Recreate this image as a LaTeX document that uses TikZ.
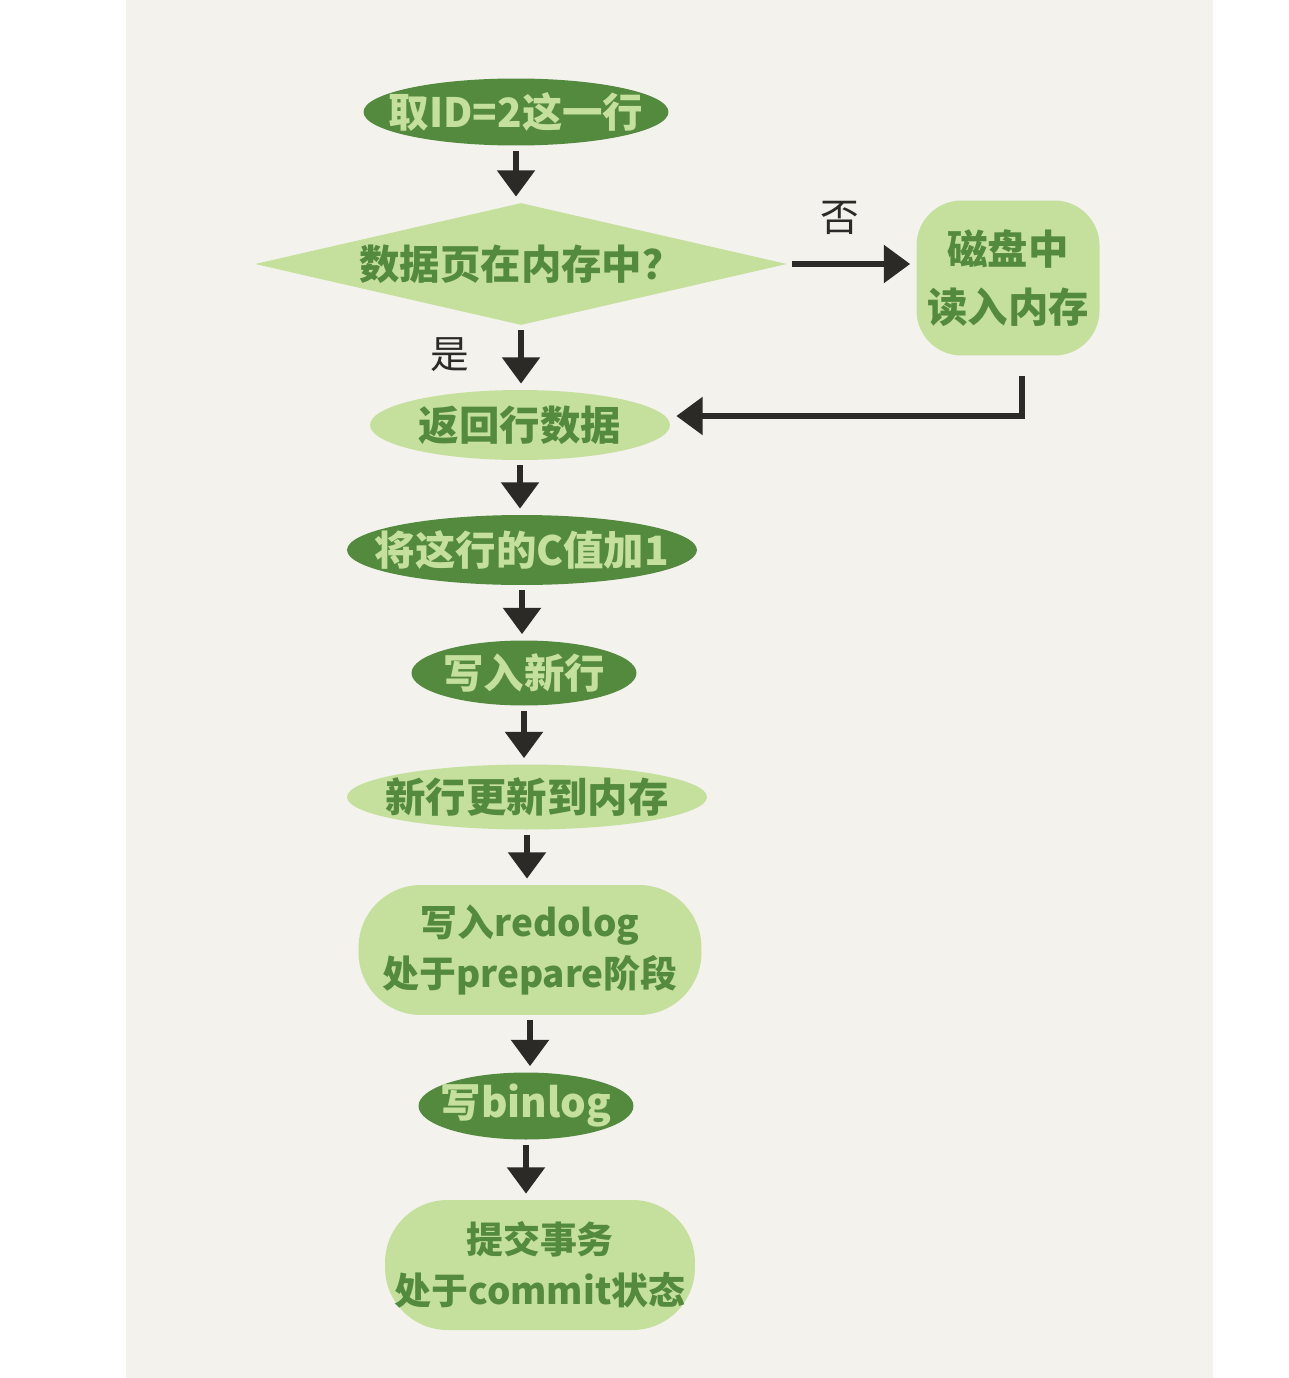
\documentclass[tikz,border=0pt]{standalone}
\usepackage{fontspec}
\newfontfamily\cjk{Noto Sans CJK SC}
\usetikzlibrary{arrows.meta,shapes.geometric,calc}
\definecolor{paper}{HTML}{F3F2ED}
\definecolor{leafdark}{HTML}{538A3E}
\definecolor{leaflight}{HTML}{C5E09C}
\definecolor{ink}{HTML}{2B2A27}
\tikzset{
	blob/.style={ellipse, inner xsep=-2cm, inner ysep=0pt, align=center, font=\cjk\bfseries\fontsize{23}{30}\selectfont},
	darkbox/.style={blob, fill=leafdark, text=leaflight},
	lightbox/.style={blob, fill=leaflight, text=leafdark},
	roundbox/.style={rectangle, inner sep=0pt, rounded corners=1.25cm, font=\cjk\bfseries\fontsize{21}{29}\selectfont},
	flow/.style={ink, line width=3.4pt, shorten <=0.1cm, shorten >=0.12cm, -{Triangle[width=21pt,length=15pt]}},
	remark/.style={font=\cjk\fontsize{22}{26}\selectfont, text=ink}
}

\begin{document}
\begin{tikzpicture}[x=0.02cm, y=-0.02cm]
			%%%%% START %%%%%
			
			\fill[white] (0, 0) rectangle (1288, 1378);
			\fill[paper] (126, 0) rectangle (1213, 1378);
			\useasboundingbox (0, 0) rectangle (1288, 1378);
			
			\node[darkbox, minimum width=6.1cm, minimum height=1.34cm] (take) at (516, 112) {取ID=2这一行};
			\node[diamond, aspect=4.36, inner sep=0pt, fill=leaflight, text=leafdark, minimum width=10.64cm, minimum height=2.44cm, font=\cjk\bfseries\fontsize{23}{30}\selectfont] (check) at (521, 264) {数据页在内存中？};
			\node[lightbox, roundbox, minimum width=3.66cm, minimum height=3.1cm, rounded corners=0.9cm, font=\cjk\bfseries\fontsize{23}{33}\selectfont] (disk) at (1008, 278) {磁盘中\\读入内存};
			\node[lightbox, minimum width=6.0cm, minimum height=1.4cm] (fetch) at (520, 425) {返回行数据};
			
			\node[darkbox, minimum width=7.0cm, minimum height=1.4cm] (incr) at (522, 550) {将这行的C值加1};
			\node[darkbox, minimum width=4.5cm, minimum height=1.3cm] (newrow) at (524, 673) {写入新行};
			\node[lightbox, minimum width=7.2cm, minimum height=1.3cm] (mem) at (527, 797) {新行更新到内存};
			\node[lightbox, roundbox, minimum width=6.86cm, minimum height=2.6cm] (redo) at (530, 950) {写入redolog\\处于prepare阶段};
			\node[darkbox, minimum width=4.3cm, minimum height=1.34cm] (binlog) at (526, 1106) {写binlog};
			\node[lightbox, roundbox, minimum width=6.2cm, minimum height=2.6cm] (commit) at (540, 1265) {提交事务\\处于commit状态};
			
			\node[remark] (yes) at (450, 355) {是};
			\node[remark] (no) at (840, 218) {否};
			
			\draw[flow] (take.south) -- (take.south |- check.north);
			\draw[flow] (check.south) -- (check.south |- fetch.north);
			\draw[flow] (check.east) -- (check.east -| disk.west);
			\draw[flow] ([xshift=0.28cm, yshift=-0.3cm]disk.south) |- ([yshift=0.18cm]fetch.east);
			\draw[flow] (fetch.south) -- (fetch.south |- incr.north);
			\draw[flow] (incr.south) -- (incr.south |- newrow.north);
			\draw[flow] (newrow.south) -- (newrow.south |- mem.north);
			\draw[flow] (mem.south) -- (mem.south |- redo.north);
			\draw[flow] (redo.south) -- (redo.south |- binlog.north);
			\draw[flow] (binlog.south) -- (binlog.south |- commit.north);
			
			%%%%% END %%%%%
\end{tikzpicture}
\end{document}
